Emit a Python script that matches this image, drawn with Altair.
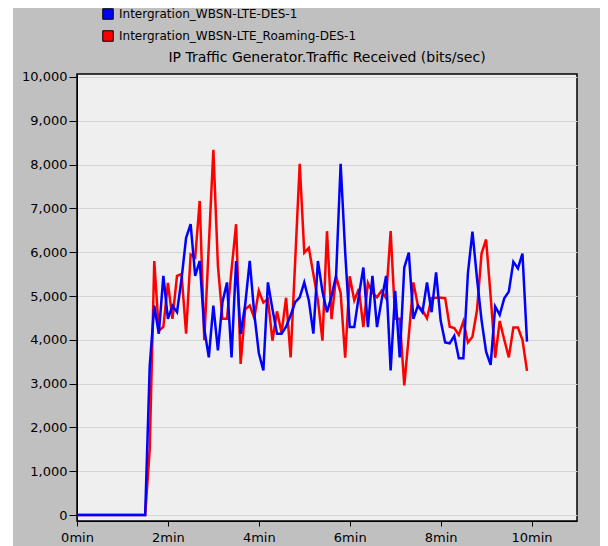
import altair as alt
import pandas as pd

blue_name = "Intergration_WBSN-LTE-DES-1"
red_name = "Intergration_WBSN-LTE_Roaming-DES-1"
chart_title = "IP Traffic Generator.Traffic Received (bits/sec)"
blue_color = "#0000ff"
red_color = "#ff0000"

# sample times (minutes)
time_min = [0.0] + [round(1.5 + 0.1 * i, 1) for i in range(85)]

blue_vals = [0, 0, 3400, 4780, 4140, 5460, 4480, 4780, 4630, 5390,
             6330, 6640, 5460, 5800, 4250, 3600, 4780, 3760, 4860, 5310,
             3600, 5800, 4130, 4800, 5800, 4600, 3700, 3300, 5310, 4700,
             4140, 4140, 4300, 4560, 4860, 4970, 5310, 4900, 4140, 5800,
             5100, 4630, 5000, 5460, 8020, 6000, 4290, 4290, 5000, 5650,
             4290, 5460, 4290, 4900, 5460, 3300, 5120, 3600, 5650, 5990,
             4480, 4780, 4630, 5310, 4630, 5540, 4440, 3940, 3920, 4090,
             3580, 3580, 5520, 6470, 5400, 4450, 3730, 3430, 4760, 4570,
             4950, 5100, 5780, 5630, 5970, 3960]

red_vals = [0, 0, 1500, 5800, 4200, 4300, 5300, 4480, 5460, 5500,
            4140, 5950, 5880, 7170, 3990, 6160, 8340, 5700, 4480, 4480,
            5600, 6640, 3450, 4700, 4780, 4500, 5120, 4850, 4930, 3980,
            4650, 4160, 4960, 3600, 5800, 8020, 5990, 6100, 5500, 4900,
            3980, 6480, 4470, 5450, 5070, 3590, 5450, 4900, 5160, 4290,
            5300, 5080, 4970, 5120, 4950, 6480, 4480, 4480, 2960, 4100,
            5310, 4780, 4680, 4490, 4950, 4960, 4960, 4950, 4300, 4270,
            4110, 4420, 3940, 4070, 4680, 5970, 6290, 5000, 3590, 4430,
            4000, 3600, 4280, 4280, 4000, 3290]

y_ticks = list(range(0, 10001, 1000))
x_ticks = [0, 2, 4, 6, 8, 10]

df_blue = pd.DataFrame({"t": time_min, "v": blue_vals, "s": blue_name})
df_red = pd.DataFrame({"t": time_min, "v": red_vals, "s": red_name})
# legend-only rows: placed outside the y domain and clipped away
df_leg = pd.DataFrame({"t": [5.0, 5.0], "v": [-5000, -5000], "s": [blue_name, red_name]})

FONT = "DejaVu Sans"
W, H = 500, 447
Y_DOMAIN = [-136, 10068]

x_enc = alt.X("t:Q",
              scale=alt.Scale(domain=[0, 11], nice=False, zero=False),
              axis=alt.Axis(values=x_ticks, labelExpr="datum.value + 'min'",
                            title=None, grid=False, tickSize=5, labelPadding=5,
                            labelFlush=False, labelOverlap=False,
                            labelFont=FONT, labelFontSize=13, labelColor="black",
                            tickColor="black", domainColor="black"))
y_enc = alt.Y("v:Q",
              scale=alt.Scale(domain=Y_DOMAIN, nice=False, zero=False),
              axis=alt.Axis(values=y_ticks, format=",d", title=None,
                            grid=True, gridColor="#d4d4d4", gridWidth=1,
                            tickSize=8, labelPadding=2, labelFlush=False,
                            labelOverlap=False,
                            labelFont=FONT, labelFontSize=13, labelColor="black",
                            tickColor="black", domainColor="black"))
fill_scale = alt.Scale(domain=[blue_name, red_name], range=[blue_color, red_color])
legend = alt.Legend(orient="none", legendX=25, legendY=-66, title=None,
                    symbolType="square", symbolSize=110, symbolStrokeColor="black",
                    symbolStrokeWidth=1, symbolOpacity=1, labelFont=FONT,
                    labelFontSize=12, labelColor="black", rowPadding=6,
                    padding=0, offset=0, labelOffset=5, labelLimit=0)

legend_layer = alt.Chart(df_leg).mark_square(
    filled=True, stroke="black", strokeWidth=1, clip=True, opacity=1
).encode(
    x=x_enc, y=y_enc,
    fill=alt.Fill("s:N", scale=fill_scale, legend=legend))

red_line = alt.Chart(df_red).mark_line(strokeWidth=2.5, color=red_color).encode(
    x=x_enc, y=y_enc)
blue_line = alt.Chart(df_blue).mark_line(strokeWidth=2.5, color=blue_color).encode(
    x=x_enc, y=y_enc)

title_layer = alt.Chart(pd.DataFrame({"label": [chart_title]})).mark_text(
    font=FONT, fontSize=14, color="black", align="center", baseline="alphabetic"
).encode(x=alt.value(W / 2), y=alt.value(-12), text="label:N")

white_strip = alt.Chart(pd.DataFrame({"k": [0]})).mark_rect(color="white").encode(
    x=alt.value(-69), x2=alt.value(-64), y=alt.value(-66), y2=alt.value(H + 25))

chart = alt.layer(white_strip, red_line, blue_line, legend_layer, title_layer).properties(
    width=W, height=H,
    autosize=alt.AutoSizeParams(type="none"),
    padding={"left": 69, "top": 66, "right": 23, "bottom": 25},
    background="#c0c0c0",
).configure_view(stroke="black", strokeWidth=1.5, fill="#efefef")

chart.save("out.html", embed_options={"renderer": "svg", "actions": False})
